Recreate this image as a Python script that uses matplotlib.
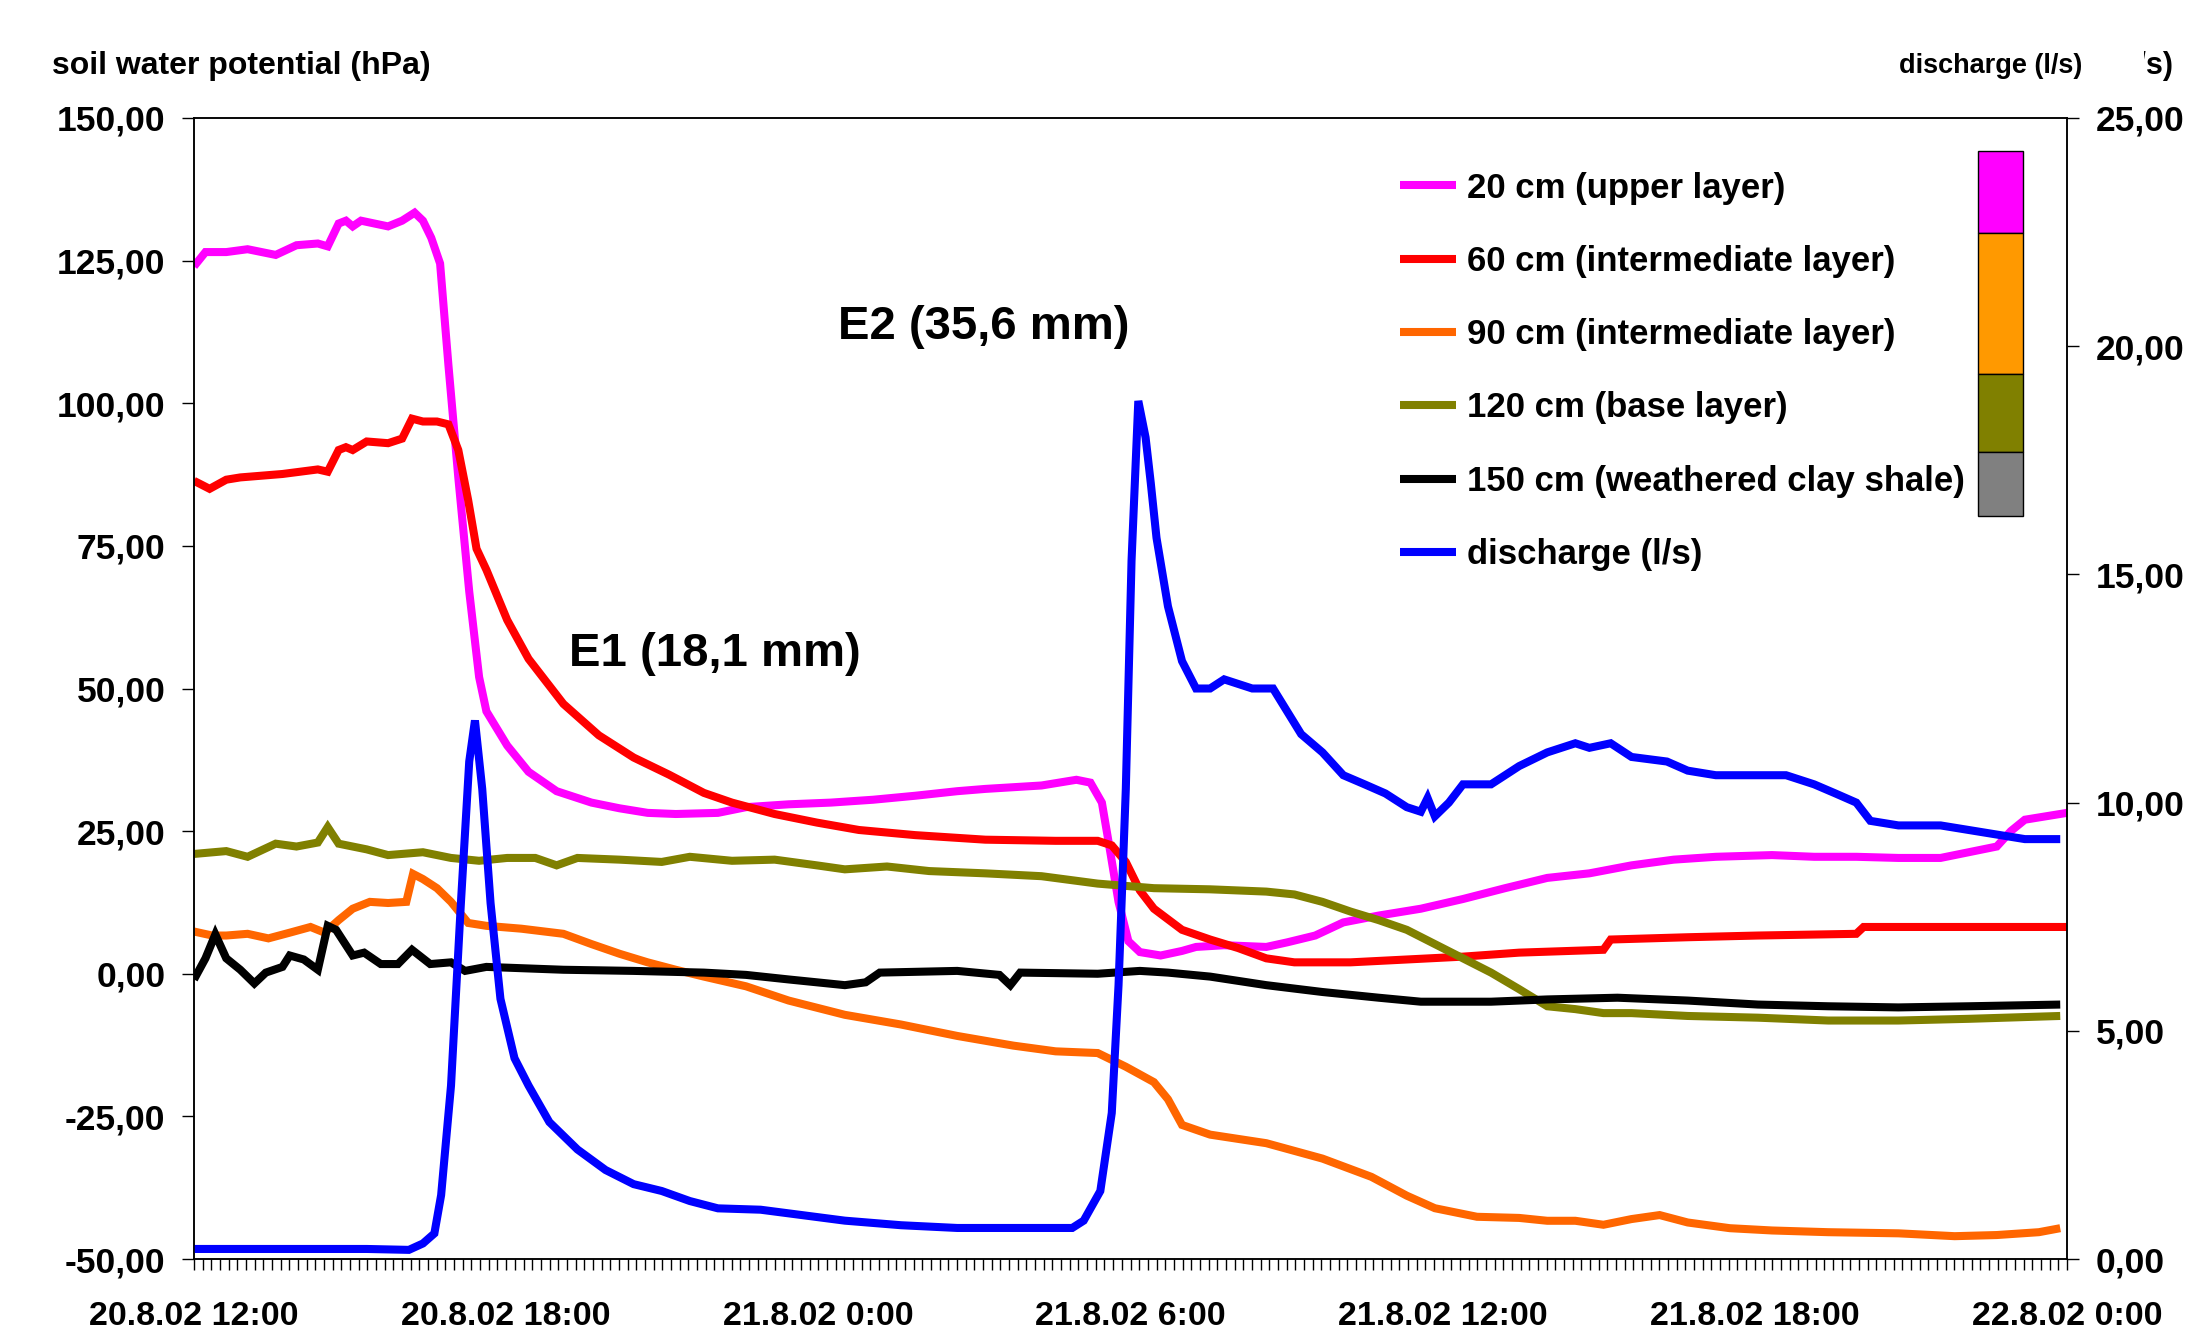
import numpy as np
import matplotlib
matplotlib.use("Agg")
import matplotlib.pyplot as plt
from matplotlib.lines import Line2D
from matplotlib.transforms import Bbox

plt.rcParams['font.family'] = ['Liberation Sans', 'DejaVu Sans']
plt.rcParams['font.weight'] = 'bold'

# ---------------- data (hours since 20.8.02 12:00) ----------------
t_20 = [0, 0.22, 0.62, 1.03, 1.57, 1.97, 2.38, 2.57, 2.78, 2.92, 3.05, 3.21, 3.73, 4.00, 4.24, 4.40,
        4.56, 4.73, 4.89, 5.08, 5.29, 5.48, 5.62, 6.02, 6.43, 6.97, 7.64, 8.18, 8.72, 9.26, 10.07,
        10.61, 11.43, 12.24, 13.05, 13.86, 14.67, 15.21, 16.29, 16.96, 17.23, 17.45, 17.59, 17.77,
        17.96, 18.18, 18.58, 18.99, 19.26, 19.80, 20.61, 21.01, 21.55, 22.09, 22.77, 23.58, 24.39,
        25.20, 26.01, 26.82, 27.63, 28.44, 29.25, 30.33, 31.14, 31.95, 32.76, 33.57, 34.11, 34.65,
        34.92, 35.19, 36.0]
v_20 = [124, 126.5, 126.5, 127, 126, 127.7, 128, 127.5, 131.5, 132, 131, 132, 131, 132, 133.4, 132,
        129, 124.5, 106.7, 87, 67, 52, 46, 40, 35.4, 32, 30, 29, 28.2, 28, 28.2,
        29.2, 29.7, 30, 30.5, 31.2, 32, 32.4, 33, 34, 33.5, 30, 22.5, 12.6,
        5.7, 3.8, 3.2, 4, 4.7, 5, 4.7, 5.5, 6.7, 9, 10.2, 11.4, 13.1,
        15, 16.8, 17.6, 19, 20, 20.5, 20.8, 20.5, 20.5, 20.3, 20.3, 21.3, 22.3,
        25, 27, 28.2]

t_60 = [0, 0.30, 0.62, 0.89, 1.70, 2.38, 2.57, 2.78, 2.92, 3.05, 3.32, 3.73, 4.00, 4.19, 4.40, 4.67,
        4.89, 5.08, 5.27, 5.43, 5.62, 6.02, 6.43, 7.10, 7.78, 8.45, 9.13, 9.80, 10.34, 11.16, 11.97,
        12.78, 13.86, 15.21, 16.56, 17.37, 17.64, 17.91, 18.18, 18.45, 18.99, 19.53, 20.07, 20.61,
        21.15, 22.23, 23.31, 24.39, 25.47, 27.09, 27.23, 28.71, 30.06, 31.95, 32.09, 34.11, 36.0]
v_60 = [86.4, 85, 86.6, 87, 87.6, 88.4, 88, 91.8, 92.3, 91.8, 93.3, 93, 93.8, 97.3, 96.8, 96.8,
        96.3, 91.8, 83, 74.5, 70.8, 62, 55.2, 47.3, 41.8, 37.9, 34.9, 31.7, 30, 28, 26.5,
        25.2, 24.3, 23.5, 23.3, 23.3, 22.5, 19.6, 14.6, 11.4, 7.7, 6, 4.5, 2.7,
        2, 2, 2.5, 3, 3.7, 4.2, 6, 6.4, 6.7, 7, 8.2, 8.2, 8.2]

t_90 = [0, 0.35, 0.62, 1.03, 1.43, 1.84, 2.24, 2.51, 2.78, 3.05, 3.38, 3.73, 4.08, 4.21, 4.40, 4.67,
        4.94, 5.27, 5.62, 6.29, 7.10, 7.64, 8.18, 8.72, 9.26, 9.80, 10.61, 11.43, 12.51, 13.59,
        14.67, 15.75, 16.56, 17.37, 17.91, 18.45, 18.72, 18.99, 19.53, 20.61, 21.69, 22.63, 23.31,
        23.85, 24.66, 25.47, 26.01, 26.55, 27.09, 27.63, 28.17, 28.71, 29.52, 30.33, 31.41, 32.76,
        33.84, 34.65, 35.46, 35.87]
v_90 = [7.4, 6.7, 6.7, 7, 6.2, 7.2, 8.2, 7.2, 9.4, 11.4, 12.6, 12.4, 12.6, 17.5, 16.6, 15,
        12.6, 8.9, 8.4, 7.9, 7, 5.2, 3.5, 2, 0.7, -0.5, -2.2, -4.7, -7.2, -8.9,
        -10.9, -12.6, -13.6, -13.9, -16.3, -19, -22, -26.5, -28.2, -29.7, -32.4, -35.6, -38.9,
        -41.1, -42.6, -42.8, -43.3, -43.3, -44, -43, -42.3, -43.6, -44.6, -45, -45.3, -45.5,
        -46, -45.8, -45.3, -44.6]

t_120 = [0, 0.62, 1.03, 1.57, 1.97, 2.38, 2.57, 2.78, 3.32, 3.73, 4.40, 4.94, 5.48, 6.02, 6.56, 6.97,
         7.37, 8.18, 8.99, 9.53, 10.34, 11.16, 11.97, 12.51, 13.32, 14.13, 15.21, 16.29, 17.37,
         18.45, 19.53, 20.61, 21.15, 21.69, 22.23, 22.77, 23.31, 23.85, 24.39, 24.93, 25.47, 26.01,
         26.55, 27.09, 27.63, 28.71, 30.06, 31.41, 32.76, 34.11, 35.87]
v_120 = [21, 21.5, 20.5, 22.8, 22.3, 23, 25.7, 22.8, 21.8, 20.8, 21.3, 20.3, 19.8, 20.3, 20.3, 19,
         20.3, 20, 19.6, 20.5, 19.8, 20, 19, 18.3, 18.8, 18, 17.6, 17.1, 15.8,
         15, 14.8, 14.4, 13.9, 12.6, 10.9, 9.4, 7.7, 5.2, 2.7, 0.2, -2.7, -5.7,
         -6.2, -6.9, -6.9, -7.4, -7.7, -8.2, -8.2, -7.9, -7.4]

t_150 = [0, 0.22, 0.41, 0.62, 0.89, 1.16, 1.38, 1.70, 1.84, 2.11, 2.38, 2.57, 2.73, 3.05, 3.27, 3.59,
         3.92, 4.19, 4.54, 4.94, 5.21, 5.62, 7.10, 8.45, 9.80, 10.61, 11.43, 12.51, 12.91, 13.18,
         14.67, 15.48, 15.69, 15.88, 17.37, 18.18, 18.72, 19.53, 20.61, 21.69, 22.77, 23.58, 24.93,
         26.01, 27.36, 28.71, 30.06, 31.41, 32.76, 34.11, 35.87]
v_150 = [-1, 2.7, 6.9, 2.7, 0.7, -1.7, 0.2, 1.2, 3.2, 2.5, 0.7, 8.4, 7.7, 3.2, 3.7, 1.7,
         1.7, 4.2, 1.7, 2, 0.5, 1.2, 0.7, 0.5, 0.2, -0.2, -1, -2, -1.5, 0.2,
         0.5, -0.2, -2, 0.2, 0, 0.5, 0.2, -0.5, -2, -3.2, -4.2, -4.9, -4.9,
         -4.5, -4.2, -4.7, -5.4, -5.7, -5.9, -5.7, -5.4]

t_q = [0, 1.70, 3.32, 4.13, 4.40, 4.62, 4.75, 4.94, 5.13, 5.29, 5.40, 5.54, 5.70, 5.89, 6.16, 6.43,
       6.83, 7.37, 7.91, 8.45, 8.99, 9.53, 10.07, 10.89, 11.70, 12.51, 13.59, 14.67, 15.75, 16.88,
       17.10, 17.42, 17.64, 17.77, 17.91, 18.02, 18.15, 18.29, 18.39, 18.50, 18.72, 18.99, 19.26,
       19.53, 19.80, 20.07, 20.34, 20.74, 21.01, 21.28, 21.69, 22.09, 22.50, 22.90, 23.31, 23.58,
       23.71, 23.85, 24.12, 24.39, 24.93, 25.47, 26.01, 26.55, 26.82, 27.23, 27.63, 28.31, 28.71,
       29.25, 29.79, 30.60, 31.14, 31.55, 31.95, 32.22, 32.76, 33.57, 34.11, 34.65, 35.19, 35.87]
v_q = [0.22, 0.22, 0.22, 0.2, 0.34, 0.56, 1.4, 3.8, 7.8, 10.9, 11.8, 10.3, 7.8, 5.7, 4.4, 3.8,
       3.0, 2.4, 1.95, 1.64, 1.49, 1.27, 1.11, 1.08, 0.96, 0.84, 0.74, 0.68, 0.68, 0.68,
       0.84, 1.49, 3.2, 6.0, 10.3, 15.3, 18.8, 18.0, 17.0, 15.8, 14.3, 13.1, 12.5,
       12.5, 12.7, 12.6, 12.5, 12.5, 12.0, 11.5, 11.1, 10.6, 10.4, 10.2, 9.9, 9.8,
       10.1, 9.7, 10.0, 10.4, 10.4, 10.8, 11.1, 11.3, 11.2, 11.3, 11.0, 10.9, 10.7,
       10.6, 10.6, 10.6, 10.4, 10.2, 10.0, 9.6, 9.5, 9.5, 9.4, 9.3, 9.2, 9.2]

series_labels = ["20 cm (upper layer)", "60 cm (intermediate layer)", "90 cm (intermediate layer)",
                 "120 cm (base layer)", "150 cm (weathered clay shale)", "discharge (l/s)"]
series_colors = ["#FF00FF", "#FF0000", "#FF6600", "#808000", "#000000", "#0000FF"]

x_tick_hours = [0, 6, 12, 18, 24, 30, 36]
x_tick_labels = ["20.8.02 12:00", "20.8.02 18:00", "21.8.02 0:00", "21.8.02 6:00",
                 "21.8.02 12:00", "21.8.02 18:00", "22.8.02 0:00"]
left_ticks = [-50, -25, 0, 25, 50, 75, 100, 125, 150]
right_ticks = [0, 5, 10, 15, 20, 25]

# soil profile column (left-axis units), top to bottom
layer_edges = [144.3, 129.8, 105.1, 91.5, 80.2]
layer_colors = ["#FF00FF", "#FF9900", "#808000", "#808080"]
profile_hours = (34.29, 35.15)

events = [("E1 (18,1 mm)", 10.02, 56.0), ("E2 (35,6 mm)", 15.18, 113.3)]

# ---------------- figure ----------------
W, H = 2206, 1336
fig = plt.figure(figsize=(W / 100, H / 100), dpi=100)
ax = fig.add_axes([194 / W, 1 - 1259 / H, (2067 - 194) / W, (1259 - 118) / H])
ax2 = ax.twinx()

lw = 5.8
left_series = [(t_20, v_20), (t_60, v_60), (t_90, v_90), (t_120, v_120), (t_150, v_150)]
for (tt, vv), c in zip(left_series, series_colors[:5]):
    ax.plot(tt, vv, color=c, lw=lw, solid_joinstyle='miter', solid_capstyle='butt')
ax2.plot(t_q, v_q, color=series_colors[5], lw=lw, solid_joinstyle='miter', solid_capstyle='butt')

# soil column
pc = (profile_hours[0] + profile_hours[1]) / 2
pw = profile_hours[1] - profile_hours[0]
for i, col in enumerate(layer_colors):
    ax.bar(pc, layer_edges[i] - layer_edges[i + 1], bottom=layer_edges[i + 1], width=pw,
           color=col, edgecolor='black', linewidth=1.0, zorder=5)

ax.set_xlim(0, 36)
ax.set_ylim(-50, 150)
ax2.set_ylim(0, 25)

fmt = lambda v: f"{v:.2f}".replace('.', ',')
ax.set_yticks(left_ticks)
ax.set_yticklabels([fmt(v) for v in left_ticks])
ax2.set_yticks(right_ticks)
ax2.set_yticklabels([fmt(v) for v in right_ticks])
ax.set_xticks(x_tick_hours)
ax.set_xticklabels(x_tick_labels)
ax.set_xticks(np.arange(0, 36 + 1e-9, 1 / 6), minor=True)

for a in (ax, ax2):
    for s in a.spines.values():
        s.set_linewidth(1.1)
        s.set_color('black')
ax.tick_params(axis='y', which='major', length=8.5, width=1.0, pad=12, labelsize=25.5)
ax2.tick_params(axis='y', which='major', length=8.5, width=1.0, pad=12, labelsize=25.5)
ax.tick_params(axis='x', which='both', length=8, width=1.0, pad=22, labelsize=24.5, direction='out')
for lab in ax.get_xticklabels() + ax.get_yticklabels() + ax2.get_yticklabels():
    lab.set_fontweight('bold')

for txt, xh, yv in events:
    ax.text(xh, yv, txt, fontsize=34, fontweight='bold', ha='center', va='center')

fig.text(52 / W, 1 - 66 / H, "soil water potential (hPa)", fontsize=23, fontweight='bold',
         ha='left', va='center')
fig.text(2082 / W, 1 - 66 / H, "discharge (l/s)", fontsize=19.5, fontweight='bold',
         ha='right', va='center')
ghost = fig.text(2174 / W, 1 - 66 / H, "l/s)", fontsize=22, fontweight='bold',
                 ha='right', va='center')
ghost.set_clip_box(Bbox.from_extents(2144, 0, W, H))
ghost.set_clip_on(True)

handles = [Line2D([], [], color=c, lw=lw, solid_capstyle='butt') for c in series_colors]
leg = ax2.legend(handles, series_labels, loc='upper left', bbox_to_anchor=(0.644, 0.953),
                 frameon=False, fontsize=25, handlelength=1.6, handletextpad=0.33,
                 labelspacing=1.16, borderpad=0, borderaxespad=0)
for t in leg.get_texts():
    t.set_fontweight('bold')

fig.savefig("out.png", dpi=100)
